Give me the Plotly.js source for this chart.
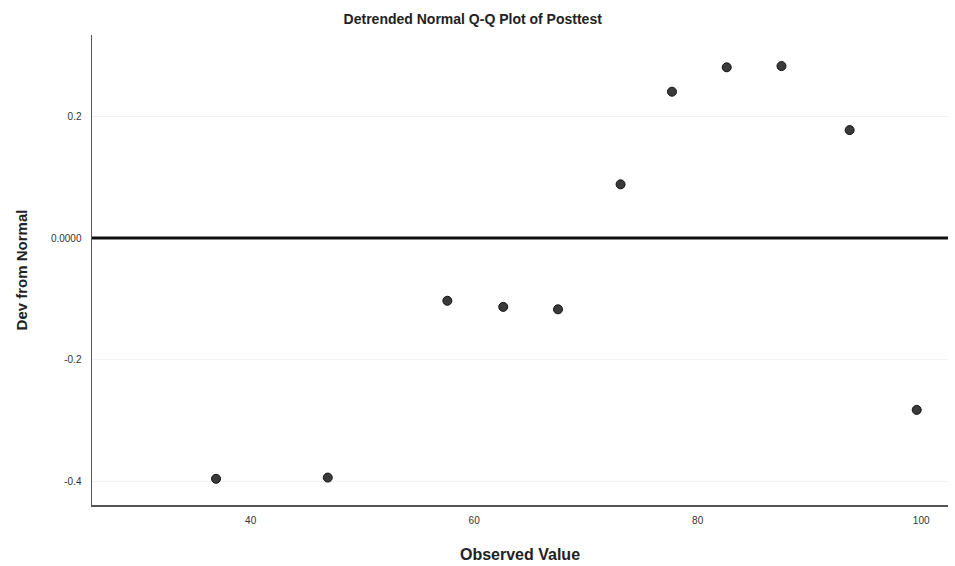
<!DOCTYPE html>
<html>
<head>
<meta charset="utf-8">
<script src="https://cdn.plot.ly/plotly-3.0.1.min.js"></script>
<style>html,body{margin:0;padding:0;background:#fff;}#chart{width:955px;height:566px;}</style>
</head>
<body>
<div id="chart"></div>
<script>
var observed = [36.9, 46.9, 57.6, 62.6, 67.5, 73.1, 77.7, 82.6, 87.5, 93.6, 99.6];
var devFromNormal = [-0.395, -0.393, -0.103, -0.113, -0.117, 0.088, 0.240, 0.280, 0.282, 0.177, -0.282];
var xTickVals = [40, 60, 80, 100];
var xTickText = ['40', '60', '80', '100'];
var yTickVals = [0.2, 0, -0.2, -0.4];
var yTickText = ['0.2', '0.0000', '-0.2', '-0.4'];

var trace = {
  x: observed, y: devFromNormal, type: 'scatter', mode: 'markers',
  marker: {size: 9, color: '#3a3a3a', line: {color: '#111', width: 1}},
  hoverinfo: 'x+y'
};

var layout = {
  width: 955, height: 566,
  margin: {l: 92, r: 7, t: 35, b: 61},
  paper_bgcolor: '#fff', plot_bgcolor: '#fff',
  showlegend: false,
  title: {text: '<b>Detrended Normal Q-Q Plot of Posttest</b>', x: 0.495, xanchor: 'center', y: 0.967, yanchor: 'middle',
          font: {family: 'Liberation Sans, Arial, sans-serif', size: 14, color: '#222'}},
  xaxis: {
    range: [25.8, 102.4], tickvals: xTickVals, ticktext: xTickText,
    showline: true, linecolor: '#555', linewidth: 1.5, mirror: false,
    showgrid: false, zeroline: false, ticks: '',
    ticklabelstandoff: 5,
    tickfont: {family: 'Liberation Sans, Arial, sans-serif', size: 10, color: '#333'},
    title: {text: '<b>Observed Value</b>', standoff: 24,
            font: {family: 'Liberation Sans, Arial, sans-serif', size: 16, color: '#222'}}
  },
  yaxis: {
    range: [-0.438, 0.333], tickvals: yTickVals, ticktext: yTickText,
    showline: true, linecolor: '#555', linewidth: 1.5, mirror: false,
    showgrid: true, gridcolor: '#f3f3f3', zeroline: false, ticks: '',
    ticklabelstandoff: 7,
    tickfont: {family: 'Liberation Sans, Arial, sans-serif', size: 10, color: '#333'},
    title: {text: '<b>Dev from Normal</b>', standoff: 19,
            font: {family: 'Liberation Sans, Arial, sans-serif', size: 15, color: '#222'}}
  },
  shapes: [{type: 'line', xref: 'paper', x0: 0, x1: 1, yref: 'y', y0: 0, y1: 0,
            line: {color: '#111', width: 3}, layer: 'above'}]
};

Plotly.newPlot('chart', [trace], layout, {displayModeBar: false, staticPlot: true});
</script>
</body>
</html>
